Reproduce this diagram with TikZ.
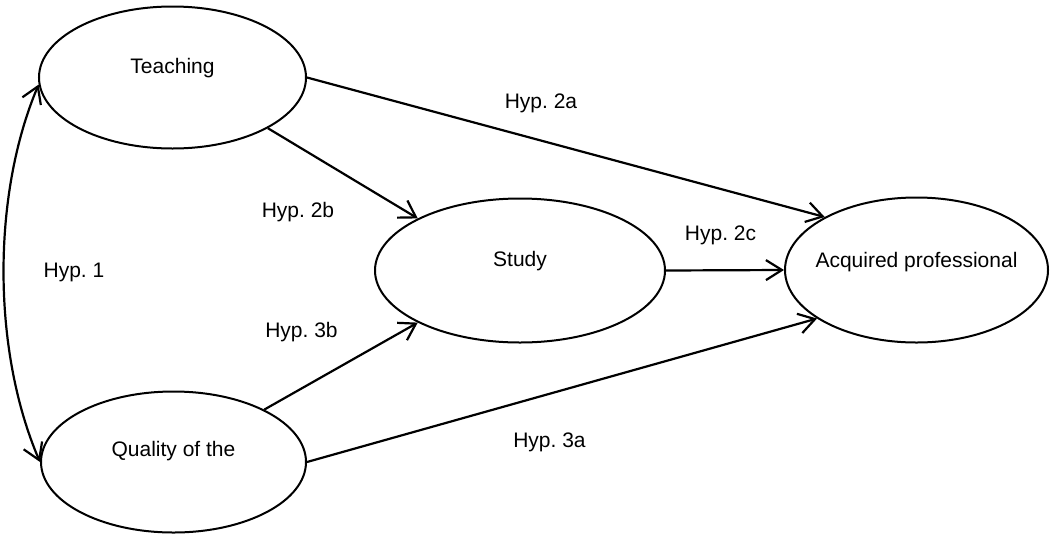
\documentclass[tikz,border=0pt]{standalone}
\usepackage{fontspec}
\setmainfont{Liberation Sans}
\usetikzlibrary{arrows.meta,shapes.geometric}
\frenchspacing
\begin{document}
\begin{tikzpicture}[x=1pt,y=-1pt,
  >={Straight Barb[length=16pt,width=20pt]},
  font=\fontsize{21}{25}\selectfont,
  oval/.style={ellipse,draw,line width=2pt,inner sep=0pt,
    text height=0pt,text depth=8pt},
  hyp/.style={anchor=base,inner sep=0pt},
  link/.style={line width=2.2pt,->},
  mutual/.style={line width=2.2pt,<->}]
\useasboundingbox (0,0) rectangle (1051,536);

% constructs (labels set in zero-width boxes so the ellipse size is fixed)
\node[oval,minimum width=267pt,minimum height=142pt] (teach) at (172.5,77.5) {\makebox[0pt]{Teaching}};
\node[oval,minimum width=265pt,minimum height=141pt,text depth=12pt] (qual) at (173.5,462) {\makebox[0pt]{Quality of the}};
\node[oval,minimum width=290pt,minimum height=144pt] (study) at (520,270.5) {\makebox[0pt]{Study}};
\node[oval,minimum width=263pt,minimum height=145pt,text depth=6pt] (acq) at (916.5,270) {\makebox[0pt]{Acquired professional}};

% paths
\draw[link] (teach.east) -- (acq.150);
\draw[link] (teach.-28) -- (study.153);
\draw[link] (qual.30) -- (study.207);
\draw[link] (qual.east) -- (acq.206);
\draw[link] (study.east) -- (acq.west);
\draw[mutual] (teach.183) .. controls (-8,195) and (-8,350) .. (qual.west);

% hypothesis labels
\node[hyp] (h2a) at (541,108) {Hyp. 2a};
\node[hyp] (h2b) at (298,217) {Hyp. 2b};
\node[hyp] (h2c) at (720.5,240) {Hyp. 2c};
\node[hyp] (h3b) at (301.5,337) {Hyp. 3b};
\node[hyp] (h3a) at (549.5,447) {Hyp. 3a};
\node[hyp] (h1) at (74,277) {Hyp. 1};
\end{tikzpicture}
\end{document}
